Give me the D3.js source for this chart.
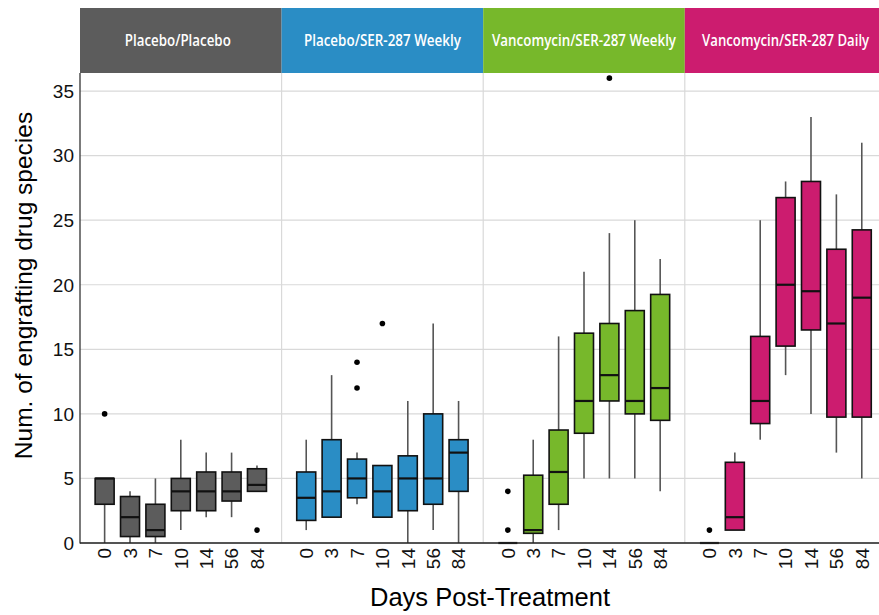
<!DOCTYPE html>
<html>
<head>
<meta charset="utf-8">
<script src="https://cdn.jsdelivr.net/npm/d3@7"></script>
<style>
  html, body { margin: 0; padding: 0; background: #fff; }
  svg { display: block; }
</style>
</head>
<body>
<svg id="chart" width="879" height="615"></svg>
<script>
// ---------- data ----------
const groups = ["Placebo/Placebo", "Placebo/SER-287 Weekly", "Vancomycin/SER-287 Weekly", "Vancomycin/SER-287 Daily"];
const groupColors = ["#5c5c5c", "#2a8dc5", "#77b82b", "#cc1c6f"];
const days = ["0", "3", "7", "10", "14", "56", "84"];
const yTicks = [0, 5, 10, 15, 20, 25, 30, 35];

// one row per group, one value per day
const whiskerLow = [
  [0, 0, 0, 1, 2, 2, 4],
  [1, 2, 3, 2, 0, 1, 0],
  [0, 0, 1, 5, 5, 5, 4],
  [0, 1, 8, 13, 10, 7, 5]
];
const q1 = [
  [3, 0.5, 0.5, 2.5, 2.5, 3.25, 4],
  [1.75, 2, 3.5, 2, 2.5, 3, 4],
  [0, 0.75, 3, 8.5, 11, 10, 9.5],
  [0, 1, 9.25, 15.25, 16.5, 9.75, 9.75]
];
const median = [
  [5, 2, 1, 4, 4, 4, 4.5],
  [3.5, 4, 5, 4, 5, 5, 7],
  [0, 1, 5.5, 11, 13, 11, 12],
  [0, 2, 11, 20, 19.5, 17, 19]
];
const q3 = [
  [5, 3.6, 3, 5, 5.5, 5.5, 5.75],
  [5.5, 8, 6.5, 6, 6.75, 10, 8],
  [0, 5.25, 8.75, 16.25, 17, 18, 19.25],
  [0, 6.25, 16, 26.75, 28, 22.75, 24.25]
];
const whiskerHigh = [
  [5, 4, 5, 8, 7, 7, 6],
  [8, 13, 7, 6, 11, 17, 11],
  [0, 8, 16, 21, 24, 25, 22],
  [0, 7, 25, 28, 33, 27, 31]
];
const outliers = [
  [[10], [], [], [], [], [], [1]],
  [[], [], [12, 14], [17], [], [], []],
  [[1, 4], [], [], [], [36], [], []],
  [[1], [], [], [], [], [], []]
];

// ---------- layout ----------
const svg = d3.select("#chart");
const plotLeft = 80, plotTop = 73, plotBottom = 543;
const panelW = 201.6;
const stripTop = 8;

const panelX = d3.scaleBand().domain(groups).range([plotLeft, plotLeft + panelW * groups.length]).padding(0);
const dayX = d3.scalePoint().domain(days).range([0, panelW]).padding(0.97);
const y = d3.scaleLinear().domain([0, 36.4]).range([plotBottom, plotTop]);
const boxW = 19;

// grid lines
svg.append("g").selectAll("line").data(yTicks).join("line")
  .attr("x1", plotLeft).attr("x2", 879)
  .attr("y1", d => y(d)).attr("y2", d => y(d))
  .attr("stroke", "#d9d9d9").attr("stroke-width", 1.2);

// panel separators
svg.append("g").selectAll("line").data(groups.slice(1)).join("line")
  .attr("x1", d => panelX(d)).attr("x2", d => panelX(d))
  .attr("y1", plotTop).attr("y2", plotBottom)
  .attr("stroke", "#d9d9d9").attr("stroke-width", 1.2);

// strips
const strips = svg.append("g").selectAll("g").data(groups).join("g");
strips.append("rect")
  .attr("x", d => panelX(d)).attr("y", stripTop)
  .attr("width", d => Math.min(panelX.bandwidth(), 879 - panelX(d))).attr("height", plotTop - stripTop)
  .attr("fill", (d, i) => groupColors[i]);
const stripTextW = [106, 157, 184, 167];
strips.append("text")
  .attr("transform", (d, i) => `translate(${panelX(d) + panelX.bandwidth() / 2 - (i === 0 ? 3 : 0)},46) scale(1,1.22)`)
  .attr("text-anchor", "middle")
  .attr("fill", "#fff")
  .attr("font-family", "'Open Sans', sans-serif")
  .attr("font-weight", 600)
  .attr("font-size", 12.5)
  .attr("textLength", (d, i) => stripTextW[i])
  .attr("lengthAdjust", "spacingAndGlyphs")
  .text(d => d);

// boxes
groups.forEach((g, gi) => {
  const pg = svg.append("g").attr("transform", `translate(${panelX(g)},0)`);
  days.forEach((d, di) => {
    const cx = dayX(d);
    // whiskers
    pg.append("line")
      .attr("x1", cx).attr("x2", cx)
      .attr("y1", y(q3[gi][di])).attr("y2", y(whiskerHigh[gi][di]))
      .attr("stroke", "#555").attr("stroke-width", 1.6);
    pg.append("line")
      .attr("x1", cx).attr("x2", cx)
      .attr("y1", y(q1[gi][di])).attr("y2", y(whiskerLow[gi][di]))
      .attr("stroke", "#555").attr("stroke-width", 1.6);
    // box
    pg.append("rect")
      .attr("x", cx - boxW / 2).attr("width", boxW)
      .attr("y", y(q3[gi][di])).attr("height", Math.max(0, y(q1[gi][di]) - y(q3[gi][di])))
      .attr("fill", groupColors[gi])
      .attr("stroke", "#111").attr("stroke-width", 1.6);
    // median
    pg.append("line")
      .attr("x1", cx - boxW / 2).attr("x2", cx + boxW / 2)
      .attr("y1", y(median[gi][di])).attr("y2", y(median[gi][di]))
      .attr("stroke", "#111").attr("stroke-width", 2.2);
    // outliers
    pg.selectAll(null).data(outliers[gi][di]).join("circle")
      .attr("cx", cx).attr("cy", v => y(v)).attr("r", 2.8)
      .attr("fill", "#000");
  });
  // x tick labels
  pg.selectAll("text.xt").data(days).join("text")
    .attr("class", "xt")
    .attr("transform", d => `translate(${dayX(d)},548) rotate(-90)`)
    .attr("text-anchor", "end")
    .attr("dy", "0.36em")
    .attr("font-family", "'Liberation Sans', Arial, sans-serif")
    .attr("font-size", 19)
    .attr("fill", "#111")
    .text(d => d);
});

// axes lines
svg.append("line").attr("x1", plotLeft).attr("x2", plotLeft)
  .attr("y1", plotTop).attr("y2", plotBottom + 0.5)
  .attr("stroke", "#333").attr("stroke-width", 1.3);
svg.append("line").attr("x1", plotLeft).attr("x2", 879)
  .attr("y1", plotBottom).attr("y2", plotBottom)
  .attr("stroke", "#222").attr("stroke-width", 1.5);

// y tick labels
svg.append("g").selectAll("text").data(yTicks).join("text")
  .attr("x", 74).attr("y", d => y(d))
  .attr("dy", "0.36em")
  .attr("text-anchor", "end")
  .attr("font-family", "'Liberation Sans', Arial, sans-serif")
  .attr("font-size", 19)
  .attr("fill", "#111")
  .text(d => d);

// axis titles
svg.append("text")
  .attr("x", 490).attr("y", 606)
  .attr("text-anchor", "middle")
  .attr("font-family", "'Liberation Sans', Arial, sans-serif")
  .attr("font-size", 25.5)
  .attr("fill", "#000")
  .text("Days Post-Treatment");
svg.append("text")
  .attr("transform", "translate(32,285.5) rotate(-90)")
  .attr("text-anchor", "middle")
  .attr("font-family", "'Liberation Sans', Arial, sans-serif")
  .attr("font-size", 24.5)
  .attr("fill", "#000")
  .text("Num. of engrafting drug species");
</script>
</body>
</html>
